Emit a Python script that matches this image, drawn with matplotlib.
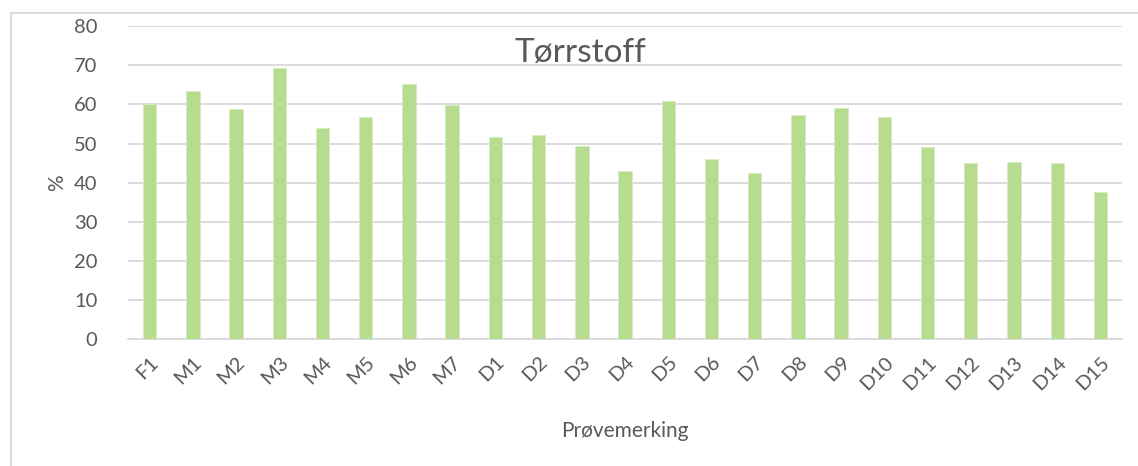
import matplotlib
matplotlib.use("Agg")
import matplotlib.pyplot as plt
from matplotlib.patches import Rectangle
import numpy as np

plt.rcParams["font.family"] = ["Lato", "DejaVu Sans"]

# sample labels and dry matter (%)
samples = ["F1", "M1", "M2", "M3", "M4", "M5", "M6", "M7",
           "D1", "D2", "D3", "D4", "D5", "D6", "D7", "D8", "D9", "D10",
           "D11", "D12", "D13", "D14", "D15"]
torrstoff = [60.2, 63.4, 58.9, 69.4, 54.0, 56.9, 65.2, 59.8,
             51.7, 52.2, 49.3, 42.9, 60.9, 46.0, 42.6, 57.2, 59.2, 56.9,
             49.2, 45.0, 45.3, 45.1, 37.6]
y_ticks = [0, 10, 20, 30, 40, 50, 60, 70, 80]

text_color = "#595959"
grid_color = "#d9d9d9"
bar_color = "#b7db8f"

fig = plt.figure(figsize=(11.38, 4.66), dpi=100)
ax = fig.add_axes([0.1125, 0.2715, 0.8735, 0.6725])

x = np.arange(len(samples))
ax.bar(x, torrstoff, width=0.31, color=bar_color, edgecolor="#d4ecbd",
       linewidth=0.6, zorder=3)

ax.set_xlim(-0.5, len(samples) - 0.5)
ax.set_ylim(0, 80)
ax.set_yticks(y_ticks)
ax.yaxis.grid(True, color=grid_color, linewidth=1.3, zorder=0)
ax.set_axisbelow(True)
for side in ["top", "right", "left"]:
    ax.spines[side].set_visible(False)
ax.spines["bottom"].set_color(grid_color)
ax.spines["bottom"].set_linewidth(1.3)

ax.tick_params(axis="y", length=0, pad=22, labelsize=14.5, labelcolor=text_color)
ax.tick_params(axis="x", length=0, pad=10, labelsize=14.5, labelcolor=text_color)
ax.set_xticks(x)
ax.set_xticklabels(samples, rotation=45, ha="right", rotation_mode="anchor")

ax.set_ylabel("%", fontsize=15, color=text_color, labelpad=5)
ax.set_xlabel("Prøvemerking", fontsize=15, color=text_color, labelpad=20)

ax.text(0.455, 0.915, "Tørrstoff", transform=ax.transAxes, ha="center",
        va="center", fontsize=24, color=text_color)

# chart area border
fig.patches.append(Rectangle((11 / 1138, -0.01), 1.2, 1 - 13 / 466 + 0.01,
                             transform=fig.transFigure, fill=False,
                             edgecolor=grid_color, linewidth=1.3))

fig.savefig("out.png", dpi=100)
